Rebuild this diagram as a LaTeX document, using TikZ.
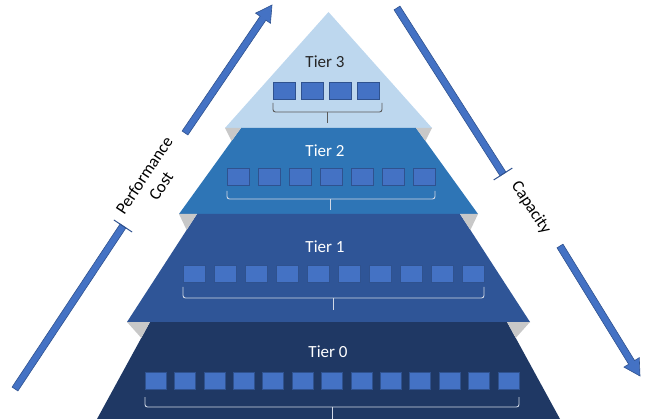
\documentclass[tikz,border=0pt]{standalone}
\usepackage{fontspec}
\setmainfont{Carlito}
\usetikzlibrary{calc}
\definecolor{tthree}{HTML}{BDD7EE}
\definecolor{ttwo}{HTML}{2E75B6}
\definecolor{tone}{HTML}{2F5597}
\definecolor{tzero}{HTML}{1F3864}
\definecolor{bevel}{HTML}{C8C8C8}
\definecolor{sqfill}{HTML}{4472C4}
\definecolor{sqline}{HTML}{2F528F}
\definecolor{brk}{HTML}{D0D8E6}
\definecolor{brkdark}{HTML}{5A5A5A}
\definecolor{txtdark}{HTML}{262626}
\tikzset{
  sq/.style={draw=sqline, fill=sqfill, line width=0.6pt, minimum width=22pt, minimum height=17pt, inner sep=0pt},
  tierlbl/.style={font=\fontsize{17}{20}\selectfont, inner sep=0pt},
  axislbl/.style={font=\fontsize{17}{20}\selectfont, align=center, inner sep=0pt, text=black},
  brace/.style={draw=brk, line width=0.9pt, rounded corners=2.5pt},
  shaft/.style={draw=sqline, fill=sqfill, line width=0.6pt, line join=miter},
  tbar/.style={draw=sqline, line width=1pt},
}
\newcommand{\blockshaft}[2]{%
  \path[shaft] ($(#1)!3.5pt!90:(#2)$) -- ($(#2)!3.5pt!-90:(#1)$) -- ($(#2)!3.5pt!90:(#1)$) -- ($(#1)!3.5pt!-90:(#2)$) -- cycle;}
\newcommand{\blockarrow}[2]{%
  \coordinate (hb) at ($(#2)!16pt!(#1)$);
  \path[shaft] ($(#1)!3.5pt!90:(#2)$) -- ($(hb)!3.5pt!-90:(#1)$) -- ($(hb)!9pt!-90:(#1)$) -- (#2) -- ($(hb)!9pt!90:(#1)$) -- ($(hb)!3.5pt!90:(#1)$) -- ($(#1)!3.5pt!-90:(#2)$) -- cycle;}
\begin{document}
\begin{tikzpicture}[x=1pt,y=-1pt]
\useasboundingbox (0,0) rectangle (647,419);
% tier shapes
\fill[tthree] (328.5,12) -- (432,128) -- (225,128) -- cycle;
\fill[ttwo] (241,128) -- (416,128) -- (478,214) -- (179,214) -- cycle;
\fill[bevel] (225,128) -- (241,128) -- (231.6,141) -- cycle;
\fill[bevel] (432,128) -- (416,128) -- (425.4,141) -- cycle;
\fill[tone] (197,214) -- (460,214) -- (530,322) -- (127,322) -- cycle;
\fill[bevel] (179,214) -- (197,214) -- (186.6,230) -- cycle;
\fill[bevel] (478,214) -- (460,214) -- (470.4,230) -- cycle;
\fill[tzero] (150,322) -- (507,322) -- (560,419) -- (97,419) -- cycle;
\fill[bevel] (127,322) -- (150,322) -- (141.3,338) -- cycle;
\fill[bevel] (530,322) -- (507,322) -- (515.7,338) -- cycle;
% labels
\node[tierlbl, text=txtdark] (t3) at (325,62) {Tier 3};
\node[tierlbl, text=white] (t2) at (325,151) {Tier 2};
\node[tierlbl, text=white] (t1) at (325,247) {Tier 1};
\node[tierlbl, text=white] (t0) at (328,352) {Tier 0};
% squares
\foreach \i in {0,...,3} \node[sq] (t3s\i) at (284+28*\i,90.5) {};
\foreach \i in {0,...,6} \node[sq] (t2s\i) at (238+31*\i,176.5) {};
\foreach \i in {0,...,9} \node[sq] (t1s\i) at (194+31*\i,274) {};
\foreach \i in {0,...,12} \node[sq, minimum width=21pt] (t0s\i) at (155.5+29.4*\i,380.5) {};
% braces
\draw[brace, draw=brkdark] (273,103) -- (273,112) -- (382,112) -- (382,103);
\draw[draw=brkdark, line width=0.9pt] (327.5,112) -- (327.5,123);
\draw[brace] (227,191) -- (227,199) -- (435,199) -- (435,191);
\draw[draw=brk, line width=0.9pt] (330.5,199) -- (330.5,210);
\draw[brace] (183,287) -- (183,298) -- (484,298) -- (484,287);
\draw[draw=brk, line width=0.9pt] (333.5,298) -- (333.5,310);
\draw[brace] (145,397) -- (145,407) -- (519,407) -- (519,397);
\draw[draw=brk, line width=0.9pt] (332,407) -- (332,419);
% arrows
\coordinate (laS) at (15,389);
\coordinate (laE) at (123,226);
\coordinate (lbS) at (185,133);
\coordinate (lbT) at (272,5);
\coordinate (raS) at (397,8);
\coordinate (raE) at (503,174);
\coordinate (rbS) at (560,246);
\coordinate (rbT) at (640,376);
\blockshaft{laS}{laE}
\draw[tbar] ($(laE)!11pt!90:(laS)$) -- ($(laE)!11pt!-90:(laS)$);
\blockarrow{lbS}{lbT}
\blockshaft{raS}{raE}
\draw[tbar] ($(raE)!11pt!90:(raS)$) -- ($(raE)!11pt!-90:(raS)$);
\blockarrow{rbS}{rbT}
\node[axislbl, rotate=56.5] (perf) at (152.5,180.5) {Performance\\Cost};
\node[axislbl, rotate=-56.5] (cap) at (531,208) {Capacity};
\end{tikzpicture}
\end{document}
